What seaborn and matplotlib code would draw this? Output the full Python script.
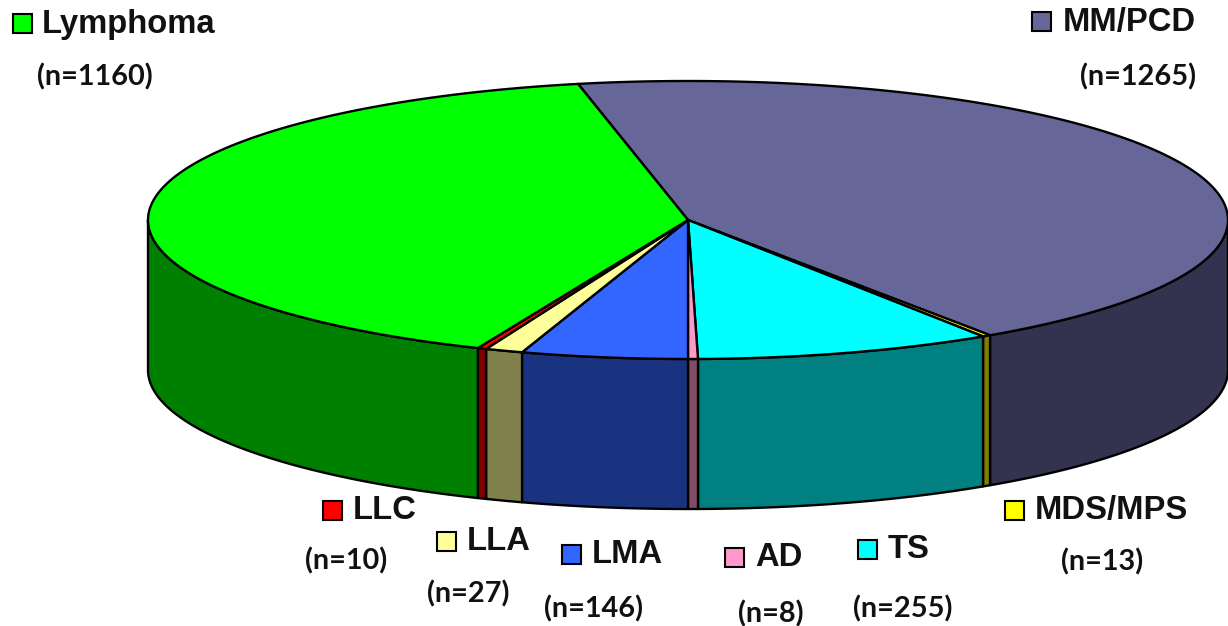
import numpy as np
import seaborn as sns
import matplotlib
matplotlib.use('Agg')
import matplotlib.pyplot as plt
from matplotlib.patches import Polygon, Rectangle

# groups, going clockwise from the back of the pie
groups = ['MM/PCD', 'MDS/MPS', 'TS', 'AD', 'LMA', 'LLA', 'LLC', 'Lymphoma']
counts = [1265, 13, 255, 8, 146, 27, 10, 1160]
# slice sizes in degrees (close to the counts, not exact)
slice_degrees = [157.74, 0.89, 32.06, 1.06, 17.9, 4.06, 0.94, 145.35]
top_colors = ['#666699', '#FFFF00', '#00FFFF', '#FF99CC', '#3366FF', '#FFFF99', '#FF0000', '#00FF00']
side_colors = ['#333350', '#808000', '#008080', '#804D66', '#1A3380', '#80804D', '#800000', '#008000']

# pie geometry in image pixels
cx, cy = 688, 220
rx, ry = 540, 139
depth = 150
start_angle = 101.75

# swatch corner, label left/baseline, n label center/baseline
swatch_xy = [(1032, 12), (1005, 501), (858, 540), (725, 548), (562, 545), (437, 532), (323, 501), (13, 14)]
label_xy = [(1063, 31), (1035, 519), (888, 558), (755, 566), (592, 563), (467, 550), (353, 519), (42, 33)]
count_xy = [(1138, 85), (1102, 570), (903, 617), (771, 622), (594, 617), (468, 602), (346, 569), (95, 85)]

sns.set_theme(style='white')
plt.rcParams['font.family'] = ['Liberation Sans', 'DejaVu Sans']

fig = plt.figure(figsize=(12.28, 6.26), dpi=100)
ax = fig.add_axes([0, 0, 1, 1])
ax.set_xlim(0, 1228)
ax.set_ylim(626, 0)
ax.axis('off')


def rim(t):
    return cx + rx * np.cos(np.radians(t)), cy - ry * np.sin(np.radians(t))


sweeps = np.array(slice_degrees)
ends = start_angle - np.cumsum(sweeps)
starts = ends + sweeps

# side walls first, only the front half (angles 180 to 360) can be seen
for a0, a1, col in zip(starts, ends, side_colors):
    for shift in (0, -360):
        hi, lo = min(a0 + shift, -0.0), max(a1 + shift, -180.0)
        if hi <= lo:
            continue
        x, y = rim(np.linspace(hi, lo, 80))
        pts = np.r_[np.c_[x, y], np.c_[x[::-1], y[::-1] + depth]]
        ax.add_patch(Polygon(pts, closed=True, fc=col, ec='black', lw=1.7, joinstyle='round'))

# top face
for a0, a1, col in zip(starts, ends, top_colors):
    x, y = rim(np.linspace(a0, a1, 200))
    pts = np.r_[[[cx, cy]], np.c_[x, y]]
    ax.add_patch(Polygon(pts, closed=True, fc=col, ec='black', lw=1.7, joinstyle='round'))

# labels
for i, name in enumerate(groups):
    sx, sy = swatch_xy[i]
    ax.add_patch(Rectangle((sx, sy), 19, 19, fc=top_colors[i], ec='black', lw=1.5))
    ax.text(label_xy[i][0], label_xy[i][1], name, fontsize=23.6, fontweight='bold',
            color='#111111', va='baseline', ha='left')
    ax.text(count_xy[i][0], count_xy[i][1], '(n=%d)' % counts[i], fontsize=20.8, fontweight='bold',
            family=['Lato', 'DejaVu Sans'], color='#111111', va='baseline', ha='center')

fig.savefig('out.png', dpi=100, facecolor='white')
